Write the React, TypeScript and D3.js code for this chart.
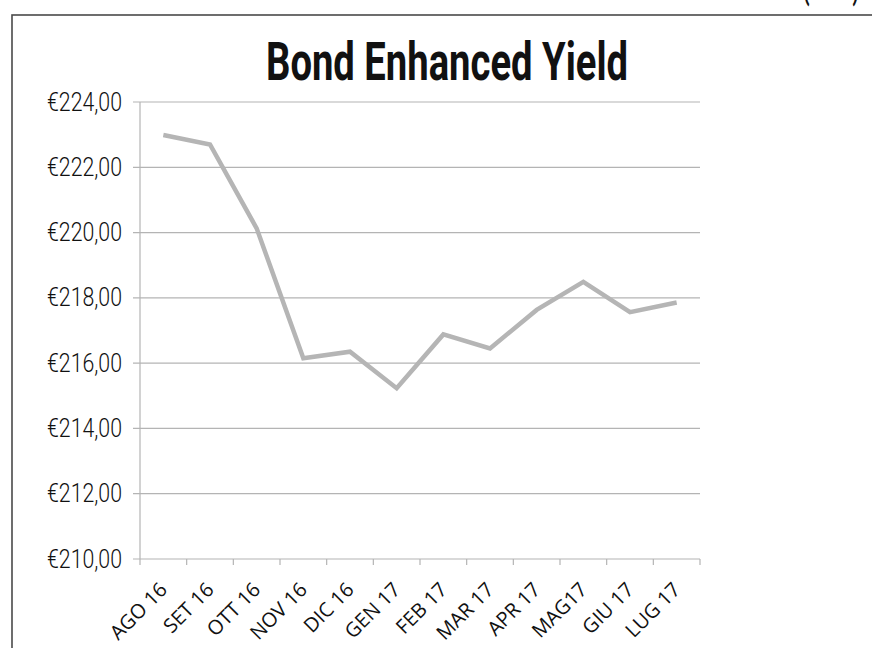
import React from "react";
import * as d3 from "d3";

const categories = ["AGO 16", "SET 16", "OTT 16", "NOV 16", "DIC 16", "GEN 17", "FEB 17", "MAR 17", "APR 17", "MAG17", "GIU 17", "LUG 17"];
const values = [222.99, 222.7, 220.13, 216.15, 216.35, 215.23, 216.88, 216.45, 217.63, 218.49, 217.56, 217.86];
const yTicks = [210, 212, 214, 216, 218, 220, 222, 224];
const title = "Bond Enhanced Yield";
const cornerNote = "(2017)";

const W = 872;
const H = 648;
const left = 140;
const right = 700;
const top = 102;
const bottom = 559;

const condensed = "'Roboto', 'DejaVu Sans Condensed', sans-serif";

export default function App() {
  const x = d3.scaleBand<string>().domain(categories).range([left, right]);
  const y = d3.scaleLinear().domain([210, 224]).range([bottom, top]);
  const line = d3
    .line<number>()
    .x((_, i) => (x(categories[i]) as number) + x.bandwidth() / 2)
    .y((d) => y(d));
  const fmt = (v: number) => "€" + v.toFixed(2).replace(".", ",");
  const boundaries = d3.range(categories.length + 1).map((i) => left + i * x.bandwidth());

  return (
    <svg width={W} height={H} style={{ position: "absolute", left: 0, top: 0, background: "#fff" }}>
      <rect x={0} y={0} width={W} height={H} fill="#fff" />
      <text x={831} y={-1} textAnchor="middle" fontFamily={condensed} fontWeight="bold" fontSize={34} textLength={56} lengthAdjust="spacingAndGlyphs" fill="#111">{cornerNote}</text>
      <rect x={12} y={15} width={W + 20} height={H + 20} fill="none" stroke="#4a4a4a" strokeWidth={1.6} />
      <text
        x={447}
        y={80}
        textAnchor="middle"
        fontFamily={condensed}
        fontWeight="bold"
        fontSize={53}
        textLength={362}
        lengthAdjust="spacingAndGlyphs"
        fill="#111"
      >
        {title}
      </text>
      {yTicks.map((t) => (
        <g key={t}>
          <line x1={133} x2={right} y1={y(t)} y2={y(t)} stroke="#b4b4b4" strokeWidth={1.2} />
          <text
            x={122}
            y={y(t) + 8.5}
            textAnchor="end"
            fontFamily={condensed}
            fontWeight={300}
            fontSize={25}
            textLength={75}
            lengthAdjust="spacingAndGlyphs"
            fill="#111"
          >
            {fmt(t)}
          </text>
        </g>
      ))}
      <line x1={left} x2={left} y1={top} y2={bottom} stroke="#b4b4b4" strokeWidth={1.2} />
      {boundaries.map((b, i) => (
        <line key={i} x1={b} x2={b} y1={bottom} y2={bottom + 6} stroke="#b4b4b4" strokeWidth={1.2} />
      ))}
      <path d={line(values) || ""} fill="none" stroke="#b5b5b5" strokeWidth={4.5} strokeLinejoin="miter" />
      {categories.map((c) => {
        const cx = (x(c) as number) + x.bandwidth() / 2 + 5;
        const cy = 591;
        return (
          <text
            key={c}
            x={cx}
            y={cy}
            transform={`rotate(-45 ${cx} ${cy})`}
            textAnchor="end"
            fontFamily="'Open Sans', sans-serif"
            fontSize={20}
            fill="#111"
          >
            {c}
          </text>
        );
      })}
    </svg>
  );
}
